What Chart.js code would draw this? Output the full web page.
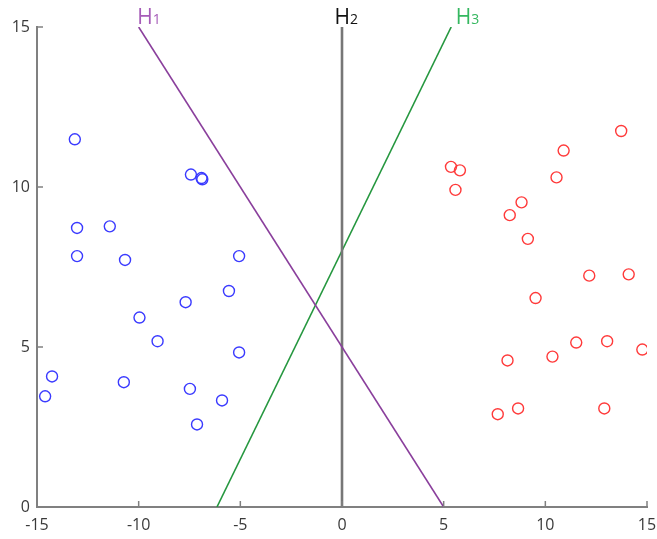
<!DOCTYPE html>
<html>
<head>
<meta charset="utf-8">
<script src="https://cdn.jsdelivr.net/npm/chart.js@4/dist/chart.umd.min.js"></script>
<style>
  html, body { margin: 0; padding: 0; background: #fff; }
  #wrap { width: 657px; height: 539px; position: relative; }
</style>
</head>
<body>
<div id="wrap"><canvas id="chart"></canvas></div>
<script>
// ──────── DATA ────────
const blueX = [-13.14, -7.43, -6.91, -6.87, -13.03, -11.42, -13.03, -10.67, -5.06, -5.56,
               -7.69, -9.96, -9.07, -5.06, -14.26, -14.6, -10.73, -7.48, -5.9, -7.13];
const blueY = [11.49, 10.39, 10.28, 10.24, 8.72, 8.77, 7.84, 7.72, 7.84, 6.75,
               6.4, 5.92, 5.18, 4.83, 4.08, 3.46, 3.9, 3.69, 3.33, 2.58];
const redX = [5.36, 5.8, 5.58, 8.83, 8.25, 9.14, 10.9, 10.55, 13.73, 12.16,
              14.1, 9.52, 11.52, 13.04, 14.77, 8.14, 10.35, 8.66, 7.66, 12.9];
const redY = [10.63, 10.52, 9.91, 9.52, 9.12, 8.38, 11.14, 10.3, 11.75, 7.23,
              7.27, 6.53, 5.14, 5.18, 4.92, 4.58, 4.7, 3.08, 2.9, 3.08];
const h1X = [-10, 5];
const h1Y = [15, 0];
const h2X = [0, 0];
const h2Y = [0, 15];
const h3X = [-6.15, 5.37];
const h3Y = [0, 15];
const xTicks = [-15, -10, -5, 0, 5, 10, 15];
const yTicks = [0, 5, 10, 15];
const lineNames = ["H", "H", "H"];
const lineSubs = ["1", "2", "3"];

const pts = (xs, ys) => xs.map((x, i) => ({ x, y: ys[i] }));

// ──────── PLUGIN: inward ticks + line labels ────────
const extras = {
  id: "extras",
  afterDraw(chart) {
    const ctx = chart.ctx;
    const xs = chart.scales.x, ys = chart.scales.y;
    const area = chart.chartArea;
    ctx.save();
    ctx.strokeStyle = "#808080";
    ctx.lineWidth = 1.5;
    xTicks.forEach(v => {
      const px = xs.getPixelForValue(v);
      ctx.beginPath(); ctx.moveTo(px, area.bottom); ctx.lineTo(px, area.bottom - 6); ctx.stroke();
    });
    yTicks.forEach(v => {
      const py = ys.getPixelForValue(v);
      ctx.beginPath(); ctx.moveTo(area.left, py); ctx.lineTo(area.left + 6, py); ctx.stroke();
    });

    // labels at the top ends of the lines
    const tops = [
      { x: h1X[0], y: h1Y[0], dx: -1.5, color: "#a65cb8" },
      { x: h2X[1], y: h2Y[1], dx: -7.5, color: "#111111" },
      { x: h3X[1], y: h3Y[1], dx: 4.5, color: "#35b860" }
    ];
    ctx.textBaseline = "alphabetic";
    ctx.textAlign = "left";
    tops.forEach((t, i) => {
      const px = xs.getPixelForValue(t.x) + t.dx;
      const py = ys.getPixelForValue(t.y) - 3;
      ctx.fillStyle = t.color;
      ctx.font = "21px 'Open Sans'";
      ctx.fillText(lineNames[i], px, py);
      const w = ctx.measureText(lineNames[i]).width;
      ctx.font = "14px 'Open Sans'";
      ctx.fillText(lineSubs[i], px + w, py);
    });
    ctx.restore();
  }
};

// ──────── CHART ────────
const circle = (color) => ({
  type: "scatter",
  pointStyle: "circle",
  pointRadius: 5.5,
  pointHoverRadius: 5.5,
  pointBorderWidth: 1.4,
  borderColor: color,
  backgroundColor: "rgba(0,0,0,0)",
  showLine: false
});
const seg = (color, width) => ({
  type: "line",
  borderColor: color,
  borderWidth: width,
  pointRadius: 0,
  fill: false,
  showLine: true
});

new Chart(document.getElementById("chart").getContext("2d"), {
  type: "scatter",
  data: {
    datasets: [
      { ...seg("#8a3f9c", 1.6), data: pts(h1X, h1Y) },
      { ...seg("#777777", 2.6), data: pts(h2X, h2Y) },
      { ...seg("#25973f", 1.6), data: pts(h3X, h3Y) },
      { ...circle("#3a3aff"), data: pts(blueX, blueY) },
      { ...circle("#ff3a3a"), data: pts(redX, redY) }
    ]
  },
  options: {
    responsive: true,
    maintainAspectRatio: false,
    animation: false,
    layout: { padding: { top: 27, right: 10, left: 0, bottom: 0 } },
    plugins: { legend: { display: false }, tooltip: { enabled: false } },
    scales: {
      x: {
        type: "linear", min: -15, max: 15,
        afterBuildTicks: s => { s.ticks = xTicks.map(v => ({ value: v })); },
        afterFit: s => { s.height = 32; s.paddingLeft = 0; s.paddingRight = 0; },
        grid: { display: false, drawTicks: false },
        border: { display: true, color: "#808080", width: 2 },
        ticks: { color: "#3a3a3a", font: { family: "'Open Sans'", size: 16 }, padding: 9, maxRotation: 0 }
      },
      y: {
        type: "linear", min: 0, max: 15,
        afterBuildTicks: s => { s.ticks = yTicks.map(v => ({ value: v })); },
        afterFit: s => { s.width = 37; s.paddingTop = 0; s.paddingBottom = 0; },
        grid: { display: false, drawTicks: false },
        border: { display: true, color: "#808080", width: 2 },
        ticks: { color: "#3a3a3a", font: { family: "'Open Sans'", size: 16 }, padding: 7 }
      }
    }
  },
  plugins: [extras]
});
</script>
</body>
</html>
